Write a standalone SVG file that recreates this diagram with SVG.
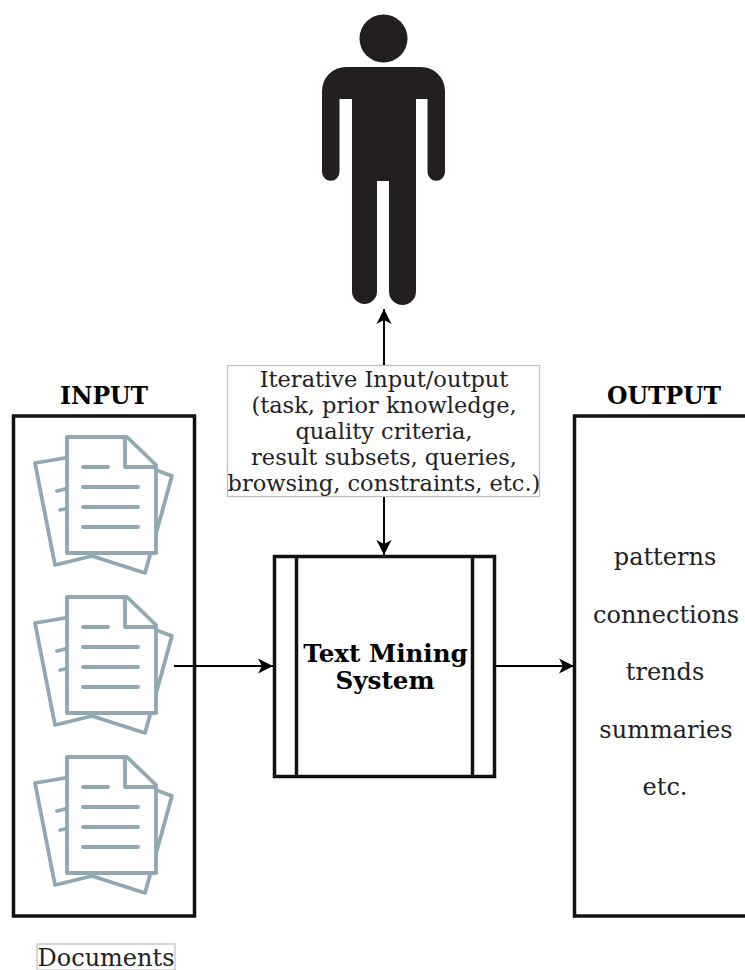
<svg xmlns="http://www.w3.org/2000/svg" xmlns:xlink="http://www.w3.org/1999/xlink" width="745" height="970" viewBox="0 0 745 970">
<style>
text{font-family:"DejaVu Serif",serif;text-anchor:middle;fill:#222}
.n{font-size:24px}.s{font-size:22.500px}.b{font-size:23.500px;font-weight:bold;fill:#000}.t{font-size:24.600px;font-weight:bold;fill:#000}
.box{fill:#fff;stroke:#111;stroke-width:3.500}
.thin{fill:#fff;stroke:#bdbdbd;stroke-width:1.2}
.c{fill:none;stroke:#000;stroke-width:2}
.d{fill:none;stroke:#8fa8b4;stroke-width:3.800;stroke-linejoin:round;stroke-linecap:round}
</style>
<defs>
<marker id="arrow" markerUnits="userSpaceOnUse" markerWidth="18" markerHeight="18" refX="15" refY="9" orient="auto"><path d="M0 1.500L15 9L0 16.500L4 9Z" fill="#000"/></marker>
<g id="doc" class="d">
<path d="M65 458L35 463L55 565L92 556L145 573L172 476L156 470"/>
<path d="M57 491L65 489M60 510L65 509"/>
<path d="M67 437H127L156 465V553H67Z" fill="#fff"/>
<path d="M125 438V467H155"/>
<path d="M83 467H108M83 487H138M83 507H138M83 527H138"/>
</g>
</defs>
<g id="person" fill="#231f20">
<circle cx="383.500" cy="38.500" r="24"/>
<path d="M346 67H421A24 24 0 0 1 445 91V172A8.750 8.750 0 0 1 427.500 172V99H416V291.500A13.500 13.500 0 0 1 389 291.500V181H377V291.500A12.500 12.500 0 0 1 352 291.500V99H339.500V172A8.750 8.750 0 0 1 322 172V91A24 24 0 0 1 346 67Z"/>
</g>
<g id="input"><rect class="box" x="13.500" y="416" width="181" height="500"/>
<text class="b" x="104" y="404">INPUT</text></g>
<g id="documents"><use xlink:href="#doc"/><use xlink:href="#doc" y="160"/><use xlink:href="#doc" y="320"/></g>
<g id="documents-label"><rect class="thin" x="37" y="944" width="138" height="26"/><text class="n" x="106" y="966">Documents</text></g>
<g id="output"><rect class="box" x="574.500" y="416" width="185" height="500"/>
<text class="b" x="664" y="404">OUTPUT</text>
<text class="n" x="665" y="565">patterns</text>
<text class="n" x="666" y="623">connections</text>
<text class="n" x="665" y="680">trends</text>
<text class="n" x="666" y="738">summaries</text>
<text class="n" x="665" y="795">etc.</text></g>
<g id="iterative"><rect class="thin" x="227.500" y="365.500" width="312" height="131"/>
<text class="s" x="384" y="387">Iterative Input/output</text>
<text class="s" x="384" y="413">(task, prior knowledge,</text>
<text class="s" x="384" y="439">quality criteria,</text>
<text class="s" x="384" y="465">result subsets, queries,</text>
<text class="s" x="384" y="491">browsing, constraints, etc.)</text></g>
<g id="system"><rect class="box" x="274.500" y="556.500" width="220" height="220"/>
<path d="M296.500 556V776M472.500 556V776" stroke="#111" stroke-width="3.500"/>
<text class="t" x="385.500" y="662">Text Mining</text>
<text class="t" x="385" y="689">System</text></g>
<g id="connectors">
<path class="c" d="M384 365V309" marker-end="url(#arrow)"/>
<path class="c" d="M384 497V555" marker-end="url(#arrow)"/>
<path class="c" d="M174 666H273" marker-end="url(#arrow)"/>
<path class="c" d="M495 666H574" marker-end="url(#arrow)"/>
</g>
</svg>
